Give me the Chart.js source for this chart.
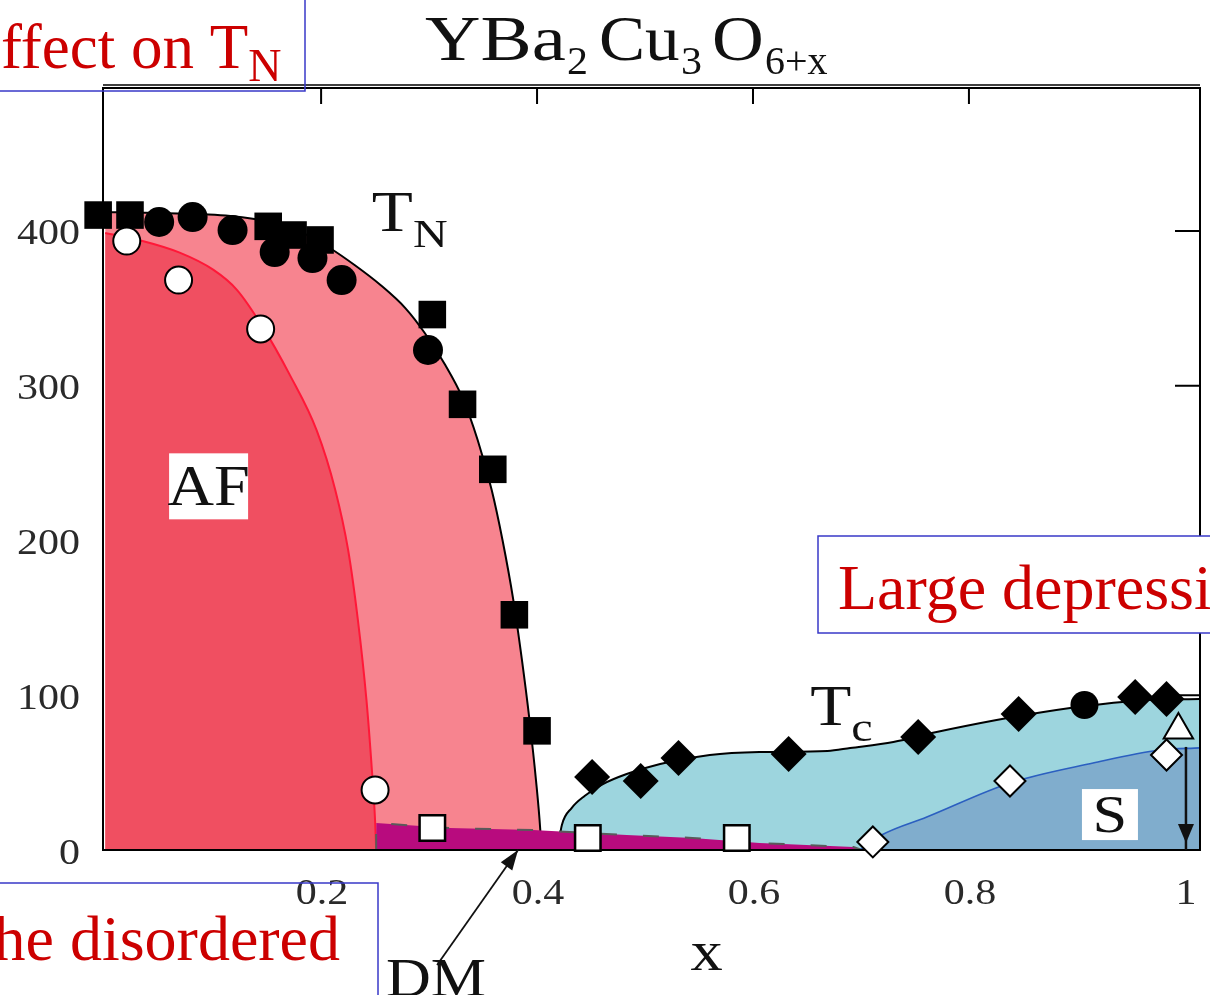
<!DOCTYPE html>
<html>
<head>
<meta charset="utf-8">
<title>YBa2Cu3O6+x phase diagram</title>
<script src="https://cdn.jsdelivr.net/npm/chart.js@4.4.1/dist/chart.umd.min.js"></script>
<style>
  html, body { margin: 0; padding: 0; background: #ffffff; }
  #wrap { width: 1210px; height: 995px; position: relative; overflow: hidden; }
</style>
</head>
<body>
<div id="wrap"><canvas id="phase" width="1210" height="995"></canvas></div>
<script>
// ---- axis ticks ----
const xTicks = [0, 0.2, 0.4, 0.6, 0.8, 1];
const yTicks = [0, 100, 200, 300, 400];

// ---- phase boundaries (oxygen content x, temperature K) ----
const tnX = [0, 0.051, 0.116, 0.153, 0.181, 0.208, 0.231, 0.255, 0.278, 0.296, 0.315, 0.331, 0.345, 0.358, 0.368, 0.378, 0.386, 0.393, 0.399, 0.403, 0.404];
const tnT = [412.3, 411.6, 409.7, 405.8, 399.4, 389, 378, 365.1, 350.2, 334.1, 313.4, 292.1, 264.9, 232.6, 200.3, 161.6, 122.8, 84, 45.2, 12.9, 0];

const afX = [0, 0.032, 0.069, 0.100, 0.122, 0.145, 0.171, 0.196, 0.213, 0.225, 0.234, 0.242, 0.247, 0.250, 0.251];
const afT = [398.7, 394, 386, 375, 362, 339, 307, 271, 233, 194, 149, 97, 52, 19, 0];

const dmX = [0.251, 0.251, 0.319, 0.396, 0.483, 0.544, 0.606, 0.693, 0.701];
const dmT = [0, 17.4, 14.2, 12.9, 9.7, 7.8, 4.5, 1.9, 0];

const tcX = [0.419, 0.423, 0.432, 0.444, 0.461, 0.483, 0.514, 0.560, 0.606, 0.669, 0.690, 0.730, 0.770, 0.869, 0.965, 1.014];
const tcT = [0, 16.2, 27.1, 34.9, 42.6, 49.1, 55.6, 61.4, 63.3, 64, 65.9, 69.8, 76.3, 89.2, 96.9, 97.6];

const sX = [0.699, 0.720, 0.761, 0.838, 0.915, 0.977, 1.014];
const sT = [0, 10, 21.3, 43.3, 56.2, 64.6, 66];

// ---- measured points ----
const tnSquareX = [-0.0065, 0.023, 0.151, 0.174, 0.199, 0.303, 0.331, 0.359, 0.379, 0.400];
const tnSquareT = [410.3, 410.3, 403, 397.4, 394.2, 346, 288, 246, 152, 77];

const tnDotX = [0.050, 0.081, 0.118, 0.157, 0.192, 0.219, 0.299];
const tnDotT = [405.8, 409, 400.6, 386.4, 382.5, 368.3, 323.1];

const afOpenX = [0.020, 0.068, 0.144, 0.250];
const afOpenT = [393.5, 368.3, 336.7, 38.8];

const dmOpenX = [0.303, 0.447, 0.585];
const dmOpenT = [14.2, 7.75, 7.75];

const tcDiamondX = [0.451, 0.496, 0.531, 0.633, 0.753, 0.846, 0.954, 0.983];
const tcDiamondT = [47.2, 44.6, 59.5, 62, 73, 87.9, 98.9, 97.6];

const tcDotX = [0.907];
const tcDotT = [93.7];

const sOpenX = [0.711, 0.838, 0.983];
const sOpenT = [5.2, 44.6, 61.4];

const triX = [0.994];
const triT = [77.5];

const pts = (xs, ys) => xs.map((x, i) => ({ x: x, y: ys[i] }));

const SERIF = "'Liberation Serif', 'DejaVu Serif', serif";
const TICK_INK = '#2a2a2a';

function region(label, xs, ys, fillColor, lineColor, lineWidth, order, extra) {
  return Object.assign({
    label: label,
    data: pts(xs, ys),
    backgroundColor: fillColor,
    borderColor: lineColor,
    borderWidth: lineWidth,
    fill: 'origin',
    pointRadius: 0,
    cubicInterpolationMode: 'monotone',
    order: order
  }, extra || {});
}

function markers(label, xs, ys, style, radius, fillColor, edge, order) {
  return {
    label: label,
    data: pts(xs, ys),
    showLine: false,
    pointStyle: style,
    pointRadius: radius,
    pointBackgroundColor: fillColor,
    pointBorderColor: '#000',
    pointBorderWidth: edge,
    clip: false,
    order: order
  };
}

// text run drawn with a horizontal stretch factor
function stretched(ctx, txt, x, y, size, sx, color, align) {
  ctx.save();
  ctx.font = size + 'px ' + SERIF;
  ctx.fillStyle = color;
  ctx.textBaseline = 'alphabetic';
  ctx.textAlign = align || 'left';
  ctx.translate(x, y);
  ctx.scale(sx, 1);
  ctx.fillText(txt, 0, 0);
  const w = ctx.measureText(txt).width * sx;
  ctx.restore();
  return w;
}

// a letter with a lowered index, e.g. T with N
function indexed(ctx, main, sub, x, y, size, subSize, drop, sx, color) {
  const w = stretched(ctx, main, x, y, size, sx, color);
  stretched(ctx, sub, x + w, y + drop, subSize, sx, color);
}

function arrowHead(ctx, x1, y1, x2, y2, len, half) {
  const a = Math.atan2(y2 - y1, x2 - x1);
  ctx.beginPath();
  ctx.moveTo(x2, y2);
  ctx.lineTo(x2 - len * Math.cos(a) + half * Math.sin(a), y2 - len * Math.sin(a) - half * Math.cos(a));
  ctx.lineTo(x2 - len * Math.cos(a) - half * Math.sin(a), y2 - len * Math.sin(a) + half * Math.cos(a));
  ctx.closePath();
  ctx.fill();
}

// frame and inward ticks, painted after the coloured phases but under the symbols
const framePlugin = {
  id: 'frame',
  afterDatasetDraw(chart, args) {
    if (chart.data.datasets[args.index].label !== 'S') return;
    const { ctx, chartArea: a, scales } = chart;
    ctx.save();
    ctx.strokeStyle = '#000';
    ctx.lineWidth = 2;
    ctx.strokeRect(a.left, a.top, a.right - a.left, a.bottom - a.top);
    ctx.lineWidth = 1.5;
    ctx.beginPath();
    ctx.moveTo(a.left, a.top - 3);
    ctx.lineTo(a.right, a.top - 3);
    ctx.stroke();
    ctx.lineWidth = 2;
    ctx.beginPath();
    [0.2, 0.4, 0.6, 0.8].forEach(v => {
      const px = scales.x.getPixelForValue(v);
      ctx.moveTo(px, a.top);
      ctx.lineTo(px, a.top + 16);
    });
    [100, 200, 300, 400].forEach(v => {
      const py = scales.y.getPixelForValue(v);
      ctx.moveTo(a.right, py);
      ctx.lineTo(a.right - 25, py);
    });
    ctx.stroke();
    ctx.restore();
  }
};

// tick labels: positions come from the scales, glyphs are widened like the rest of the figure
const tickLabelPlugin = {
  id: 'tickLabels',
  afterDraw(chart) {
    const { ctx, scales } = chart;
    scales.y.ticks.forEach((t, i) => {
      if (!t.label) return;
      const py = scales.y.getPixelForTick(i);
      stretched(ctx, String(t.label), scales.y.right - 23, py + 13.5, 35, 1.2, TICK_INK, 'right');
    });
    scales.x.ticks.forEach((t, i) => {
      if (!t.label) return;
      const px = scales.x.getPixelForTick(i);
      stretched(ctx, String(t.label), px + 1, scales.x.top + 54, 35, 1.2, TICK_INK, 'center');
    });
  }
};

// phase names, arrows, title and the boxed remarks
const notesPlugin = {
  id: 'notes',
  afterDraw(chart) {
    const { ctx, scales } = chart;
    const X = v => scales.x.getPixelForValue(v);
    const Y = v => scales.y.getPixelForValue(v);
    ctx.save();

    // title
    const ink = '#111';
    stretched(ctx, 'YBa', 425, 60, 64, 1.2, ink);
    stretched(ctx, '2', 567, 74, 40, 1.05, ink);
    stretched(ctx, 'Cu', 599, 60, 64, 1.08, ink);
    stretched(ctx, '3', 681, 74, 40, 1.05, ink);
    stretched(ctx, 'O', 712, 60, 64, 1.12, ink);
    stretched(ctx, '6+x', 765, 74, 40, 1.0, ink);

    // transition labels
    indexed(ctx, 'T', 'N', X(0.247), Y(400), 56, 40, 16, 1.2, ink);
    indexed(ctx, 'T', 'c', X(0.653), Y(80.8), 56, 40, 16, 1.2, ink);

    // boxed phase names
    const box = (txt, cx, cy, w, h, size, sx) => {
      ctx.fillStyle = '#fff';
      ctx.fillRect(cx - w / 2, cy - h / 2, w, h);
      stretched(ctx, txt, cx, cy + size * 0.33, size, sx, ink, 'center');
    };
    box('AF', X(0.0958), Y(235), 79, 66, 56, 1.15);
    box('S', X(0.9306), Y(22.9), 56, 51, 52, 1.2);

    // axis name
    stretched(ctx, 'x', X(0.557), Y(-77.5), 56, 1.15, ink, 'center');

    // DM label and its arrow
    stretched(ctx, 'DM', X(0.26), Y(-94.5), 54, 1.15, ink);
    ctx.strokeStyle = '#111';
    ctx.fillStyle = '#111';
    ctx.lineWidth = 1.8;
    ctx.beginPath();
    ctx.moveTo(X(0.3074), Y(-74.3));
    ctx.lineTo(X(0.3824), Y(0));
    ctx.stroke();
    arrowHead(ctx, X(0.3074), Y(-74.3), X(0.3824), Y(0), 20, 7);

    // arrow down from T_c at x = 1
    ctx.lineWidth = 2.5;
    ctx.beginPath();
    ctx.moveTo(X(1.001), Y(66.6));
    ctx.lineTo(X(1.001), Y(0));
    ctx.stroke();
    arrowHead(ctx, X(1.001), Y(30), X(1.001), Y(4.5), 19, 8);

    // boxed remarks in red
    ctx.strokeStyle = '#3838c8';
    ctx.lineWidth = 1.5;
    ctx.strokeRect(-2, -2, 307, 93);
    ctx.fillStyle = '#fff';
    ctx.fillRect(818, 536, 400, 97);
    ctx.strokeRect(818, 536, 400, 97);
    ctx.strokeRect(-2, 883, 380, 200);

    const red = '#cc0000';
    ctx.font = '63px ' + SERIF;
    const eW = ctx.measureText('e').width;
    indexed(ctx, 'effect on T', 'N', 1 - eW, 68, 63, 46, 13, 1, red);
    stretched(ctx, 'Large depression', 838, 609, 64, 1, red);
    stretched(ctx, 'the disordered', 340, 960, 64, 1, red, 'right');

    ctx.restore();
  }
};

new Chart(document.getElementById('phase'), {
  type: 'line',
  data: {
    datasets: [
      region('T_N', tnX, tnT, '#f7848f', '#000', 2, 10),
      region('AF', afX, afT, '#f04f61', '#ff1838', 2, 9),
      region('T_c', tcX, tcT, '#9dd5de', '#000', 2, 8),
      region('DM', dmX, dmT, '#b80b7e', '#5a5a5a', 2, 7, { cubicInterpolationMode: 'default', tension: 0, borderDash: [16, 26] }),
      region('S', sX, sT, '#80adcd', '#2b5fc0', 1.6, 6),
      markers('T_N squares', tnSquareX, tnSquareT, 'rect', 19.5, '#000', 0, 4),
      markers('T_N dots', tnDotX, tnDotT, 'circle', 15, '#000', 0, 3),
      markers('AF open', afOpenX, afOpenT, 'circle', 13.5, '#fff', 2, 2),
      markers('DM open', dmOpenX, dmOpenT, 'rect', 18, '#fff', 2.5, 2),
      markers('T_c diamonds', tcDiamondX, tcDiamondT, 'rectRot', 18, '#000', 0, 1),
      markers('T_c dot', tcDotX, tcDotT, 'circle', 14, '#000', 0, 1),
      markers('S open', sOpenX, sOpenT, 'rectRot', 15.5, '#fff', 2, 0),
      markers('open triangle', triX, triT, 'triangle', 17, '#fff', 2, 0)
    ]
  },
  options: {
    responsive: false,
    animation: false,
    devicePixelRatio: 1,
    events: [],
    layout: { autoPadding: false, padding: { top: 88, right: 10, left: 0, bottom: 0 } },
    plugins: { legend: { display: false }, tooltip: { enabled: false } },
    scales: {
      x: {
        type: 'linear',
        min: -0.002,
        max: 1.014,
        grid: { display: false, drawTicks: false },
        border: { display: false },
        afterBuildTicks: s => { s.ticks = xTicks.map(v => ({ value: v })); },
        afterFit: s => { s.height = 145; s.paddingLeft = 0; s.paddingRight = 0; },
        ticks: {
          autoSkip: false,
          maxRotation: 0,
          padding: 23,
          color: 'rgba(0,0,0,0)',
          font: { family: SERIF, size: 35 },
          callback: v => (v === 0 ? '' : (v === 1 ? '1' : v.toFixed(1)))
        }
      },
      y: {
        type: 'linear',
        min: 0,
        max: 492.4,
        grid: { display: false, drawTicks: false },
        border: { display: false },
        afterBuildTicks: s => { s.ticks = yTicks.map(v => ({ value: v })); },
        afterFit: s => { s.width = 103; s.paddingTop = 0; s.paddingBottom = 0; },
        ticks: {
          autoSkip: false,
          padding: 23,
          color: 'rgba(0,0,0,0)',
          font: { family: SERIF, size: 35 }
        }
      }
    }
  },
  plugins: [framePlugin, tickLabelPlugin, notesPlugin]
});
</script>
</body>
</html>
